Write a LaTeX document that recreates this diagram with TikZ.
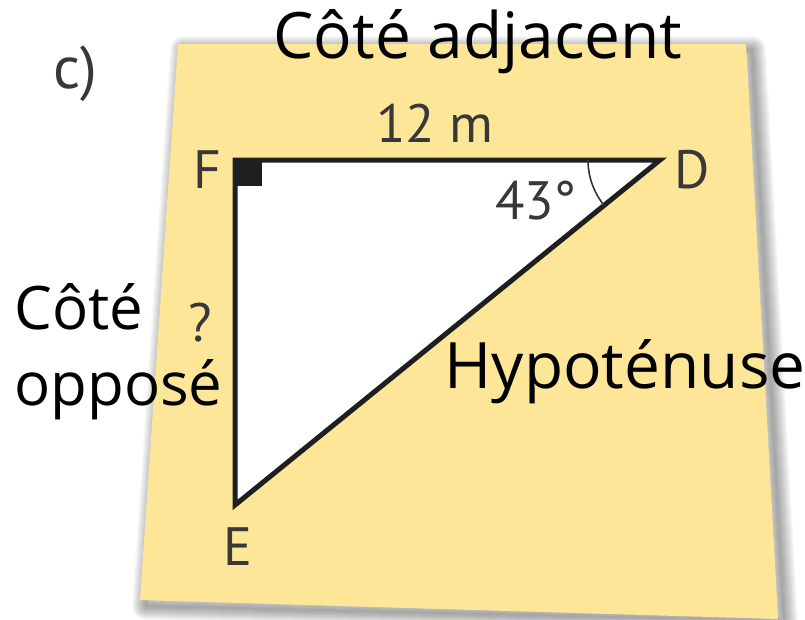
\documentclass[tikz,border=0pt]{standalone}
\usepackage{fontspec}
\setmainfont{Open Sans}
\newfontfamily\hand{Open Sans}
\newfontfamily\lab{PT Sans}
\begin{document}
\begin{tikzpicture}[x=1pt,y=-1pt,
  hw/.style={font=\hand\fontsize{64}{70}\selectfont, text=black, inner sep=0pt},
  gl/.style={font=\lab\fontsize{54}{58}\selectfont, text=black!78, inner sep=0pt},
  side/.style={line width=5pt, draw=black!88}]
\useasboundingbox (0,0) rectangle (805,619);
\fill[white] (0,0) rectangle (805,619);
% sticky note shadow
\foreach \w in {2,4,...,28}{
  \draw[black, opacity=0.028, line width=\w pt, line join=round]
    (184,50) -- (752,50) -- (784,621) -- (146,606) -- cycle;
}
\fill[fill={rgb,255:red,253;green,230;blue,152}]
  (178,44) -- (746,44) -- (778,619) -- (140,600) -- cycle;
% triangle
\coordinate (F) at (235,160);
\coordinate (D) at (660,160);
\coordinate (E) at (235,505);
\fill[white] (F) -- (D) -- (E) -- cycle;
\fill[black!88] (F) rectangle (262,186);
\draw[side, line join=miter] (D) -- (F) -- (E) -- cycle;
\draw[line width=1.6pt, black!80] ([shift={(180:72)}]D) arc[start angle=180, end angle=141, radius=72];
% labels
\node[gl, font=\lab\fontsize{60}{64}\selectfont] (c) at (75,74) {c)};
\node[gl] (l12) at (435,123) {12 m};
\node[gl] (lF) at (207,170) {F};
\node[gl] (lD) at (692,170) {D};
\node[gl] (lE) at (238,547) {E};
\node[gl] (l43) at (536,201) {43°};
\node[gl] (lq) at (200,323) {?};
\node[hw] (adj) at (478,42) {Côté adjacent};
\node[hw, align=left, anchor=west, font=\hand\fontsize{60}{76}\selectfont] (opp) at (14,352) {Côté\\opposé};
\node[hw] (hyp) at (625,372) {Hypoténuse};
\end{tikzpicture}
\end{document}
